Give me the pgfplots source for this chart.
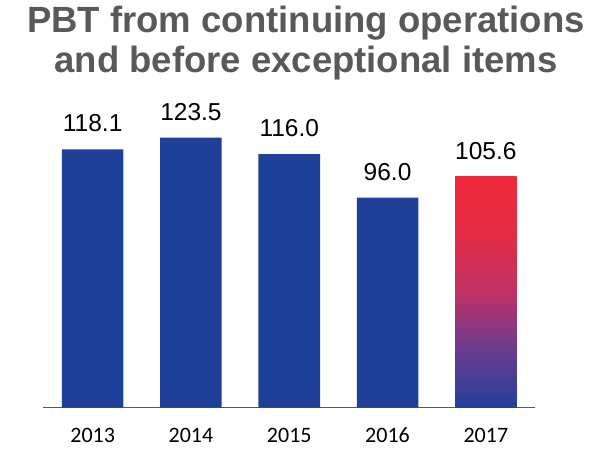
\documentclass[border=0pt]{standalone}
\usepackage{pgfplots}
\pgfplotsset{compat=1.18}
\usepackage{fontspec}
\setmainfont{Liberation Sans}
\newfontfamily\yearfont{Carlito}
\definecolor{barblue}{RGB}{31,64,153}
\definecolor{gradtop}{RGB}{238,41,58}
\definecolor{gradA}{RGB}{228,43,70}
\definecolor{gradB}{RGB}{190,50,100}
\definecolor{gradC}{RGB}{105,60,145}
\definecolor{gradbot}{RGB}{35,64,155}
\definecolor{titlegray}{RGB}{89,89,89}
\definecolor{axisgray}{RGB}{89,89,89}
\pgfdeclareverticalshading{barshade}{100bp}{color(0bp)=(gradbot); color(25bp)=(gradbot);
  color(37.5bp)=(gradC); color(50bp)=(gradB); color(62.5bp)=(gradA);
  color(75bp)=(gradtop); color(100bp)=(gradtop)}

\begin{document}
\begin{tikzpicture}
  \useasboundingbox (-43.5pt,-40.5pt) rectangle (558.5pt,407.5pt);
  \begin{axis}[
      at={(0,0)}, anchor=south west,
      scale only axis,
      width=491.5pt, height=327.75pt,
      xmin=-0.5, xmax=4.5,
      ymin=0, ymax=150,
      clip=false,
      axis x line=bottom,
      axis y line=none,
      x axis line style={draw=axisgray, line width=1.8pt, -},
      xtick={0,1,2,3,4},
      xticklabels={2013,2014,2015,2016,2017},
      major tick length=0pt,
      xticklabel style={font=\yearfont\fontsize{22}{26}\selectfont, anchor=base, yshift=-34.5pt},
      ybar, bar width=61.5pt, bar shift=0pt,
      nodes near coords,
      nodes near coords style={font=\fontsize{24.5}{28}\selectfont, anchor=base, yshift=17.5pt,
        /pgf/number format/.cd, fixed, fixed zerofill, precision=1, assume math mode=true},
    ]
    \addplot[draw=none, fill=barblue] coordinates {(0,118.1) (1,123.5) (2,116.0) (3,96.0)};
    \addplot[draw=none, shade, shading=barshade] coordinates {(4,105.6)};
  \end{axis}
  \node[anchor=base, text=titlegray, font=\bfseries\fontsize{36.5}{44}\selectfont] at (262.5pt,375pt) {PBT from continuing operations};
  \node[anchor=base, text=titlegray, font=\bfseries\fontsize{36.5}{44}\selectfont] at (262.5pt,335pt) {and before exceptional items};
\end{tikzpicture}
\end{document}
